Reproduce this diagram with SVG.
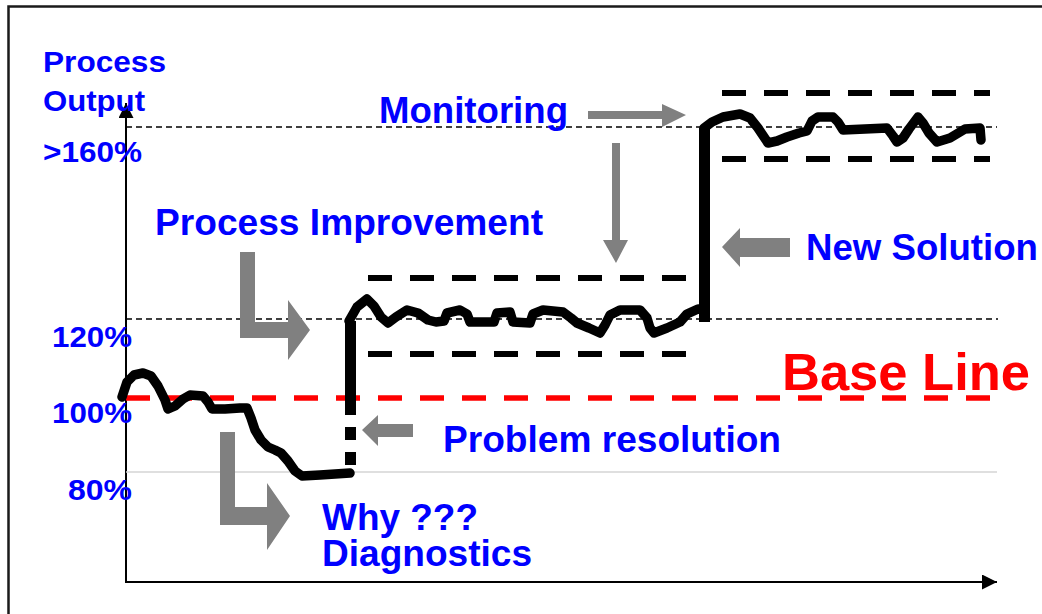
<svg xmlns="http://www.w3.org/2000/svg" width="1042" height="614" viewBox="0 0 1042 614">
  <defs>
    <style>
      .lbl { font-family: "Liberation Sans", Arial, sans-serif; font-weight: bold; fill: #0000ff; }
      .axis-lbl { font-size: 30px; }
      .big-lbl { font-size: 36px; }
      .ref { fill: none; stroke: #000; stroke-width: 1.3; stroke-dasharray: 6 4; }
      .band { fill: none; stroke: #000; stroke-width: 6; stroke-dasharray: 24 18; }
      .trace { fill: none; stroke: #000; stroke-width: 9.5; stroke-linejoin: round; stroke-linecap: round; }
      .pointer { fill: #808080; stroke: none; }
    </style>
    <marker id="axisHead" viewBox="0 0 10 10" refX="10" refY="5" markerWidth="15" markerHeight="15" markerUnits="userSpaceOnUse" orient="auto">
      <path d="M0,0 L10,5 L0,10 Z" fill="#000"/>
    </marker>
  </defs>

  <rect width="1042" height="614" fill="#fff"/>
  <!-- outer frame (right and bottom edges run past the canvas) -->
  <rect x="8.5" y="6.5" width="1050" height="630" fill="none" stroke="#1a1a1a" stroke-width="2.5"/>

  <!-- axes -->
  <g id="axes" stroke="#000" stroke-width="2" fill="none">
    <line x1="126" y1="583" x2="126" y2="103" marker-end="url(#axisHead)"/>
    <line x1="126" y1="582" x2="997" y2="582" marker-end="url(#axisHead)"/>
  </g>

  <!-- reference levels -->
  <g id="levels">
    <line x1="126" y1="472" x2="997" y2="472" stroke="#d4d4d4" stroke-width="1.5"/>
    <line class="ref" x1="126" y1="127" x2="997" y2="127"/>
    <line class="ref" x1="126" y1="319" x2="998" y2="319"/>
    <line x1="126" y1="398" x2="992" y2="398" stroke="#ff0000" stroke-width="5.5" stroke-dasharray="24 18"/>
  </g>

  <!-- control bands -->
  <g id="bands">
    <line class="band" x1="368" y1="278" x2="686" y2="278"/>
    <line class="band" x1="368" y1="354" x2="686" y2="354"/>
    <line class="band" x1="722" y1="93" x2="990" y2="93"/>
    <line class="band" x1="722" y1="159" x2="990" y2="159"/>
  </g>

  <!-- process output trace -->
  <g id="trace">
    <polyline class="trace" points="122,397 127,382 134,375 143,373 151,376 158,386 165,400 168,409 175,406 183,399 190,395 203,396 208,402 212,409 225,409 240,408 247,408 251,418 255,430 261,440 268,447 275,450 281,453 288,461 295,471 302,476 320,475 350,473"/>
    <!-- step down before the fix -->
    <line x1="350.5" y1="402" x2="350.5" y2="475" stroke="#000" stroke-width="11" stroke-dasharray="13 12"/>
    <line x1="350.5" y1="321" x2="350.5" y2="402" stroke="#000" stroke-width="11"/>
    <polyline class="trace" points="349,321 357,307 367,299 374,306 381,317 388,323 396,317 407,310 418,313 428,320 436,322 444,321 447,313 460,310 467,314 470,322 494,322 497,313 510,312 513,322 530,323 533,314 543,310 563,312 571,318 577,323 589,328 600,333 605,325 610,315 620,310 640,310 647,318 650,328 654,333 667,328 680,322 687,314 698,309 704,310"/>
    <!-- step up to new level -->
    <line x1="704.5" y1="322" x2="704.5" y2="128" stroke="#000" stroke-width="11"/>
    <polyline class="trace" points="704,128 712,122 723,117 740,114 750,118 758,128 768,143 777,141 787,137 799,133 807,131 812,121 818,117 833,117 838,122 843,130 865,129 887,128 893,136 897,142 903,138 909,129 918,117 923,123 929,133 937,142 950,138 965,129 980,128 981,140"/>
  </g>

  <!-- labels -->
  <g id="label-process-output">
    <text class="lbl axis-lbl" x="43" y="72" textLength="123" lengthAdjust="spacingAndGlyphs">Process</text>
    <text class="lbl axis-lbl" x="43" y="111" textLength="102" lengthAdjust="spacingAndGlyphs">Output</text>
  </g>
  <g id="label-160"><text class="lbl axis-lbl" x="43" y="162" textLength="99" lengthAdjust="spacingAndGlyphs">&gt;160%</text></g>
  <g id="label-120"><text class="lbl axis-lbl" x="52" y="347" textLength="80" lengthAdjust="spacingAndGlyphs">120%</text></g>
  <g id="label-100"><text class="lbl axis-lbl" x="52" y="423" textLength="80" lengthAdjust="spacingAndGlyphs">100%</text></g>
  <g id="label-80"><text class="lbl axis-lbl" x="68" y="500" textLength="64" lengthAdjust="spacingAndGlyphs">80%</text></g>

  <g id="label-monitoring"><text class="lbl big-lbl" x="379" y="123" textLength="189" lengthAdjust="spacingAndGlyphs">Monitoring</text></g>
  <g id="label-improvement"><text class="lbl big-lbl" x="155" y="235" textLength="388" lengthAdjust="spacingAndGlyphs">Process Improvement</text></g>
  <g id="label-new-solution"><text class="lbl big-lbl" x="806" y="260" textLength="232" lengthAdjust="spacingAndGlyphs">New Solution</text></g>
  <g id="label-base-line"><text x="782" y="390" font-family="Liberation Sans, Arial, sans-serif" font-weight="bold" font-size="52" fill="#ff0000" textLength="248" lengthAdjust="spacingAndGlyphs">Base Line</text></g>
  <g id="label-resolution"><text class="lbl big-lbl" x="443" y="452" textLength="338" lengthAdjust="spacingAndGlyphs">Problem resolution</text></g>
  <g id="label-diagnostics">
    <text class="lbl big-lbl" x="322" y="530" textLength="156" lengthAdjust="spacingAndGlyphs">Why ???</text>
    <text class="lbl big-lbl" x="322" y="566" textLength="210" lengthAdjust="spacingAndGlyphs">Diagnostics</text>
  </g>

  <!-- pointer arrows -->
  <g id="connectors" class="pointer">
    <!-- Monitoring → upper band -->
    <polygon points="588,111 662,111 662,104 686,115 662,127 662,119 588,119"/>
    <!-- Monitoring ↓ middle band -->
    <polygon points="612,143 620,143 620,240 628,240 616,263 603,240 612,240"/>
    <!-- New Solution ← step -->
    <polygon points="790,238 740,238 740,228 722,247 740,267 740,257 790,257"/>
    <!-- Problem resolution ← step -->
    <polygon points="413,424 378,424 378,415 362,430 378,446 378,437 413,437"/>
    <!-- Process Improvement bent arrow -->
    <polygon points="240,252 255,252 255,322 288,322 288,300 310,330 288,360 288,338 240,338"/>
    <!-- Why / Diagnostics bent arrow -->
    <polygon points="220,432 235,432 235,507 267,507 267,483 290,516 267,550 267,525 220,525"/>
  </g>
</svg>
